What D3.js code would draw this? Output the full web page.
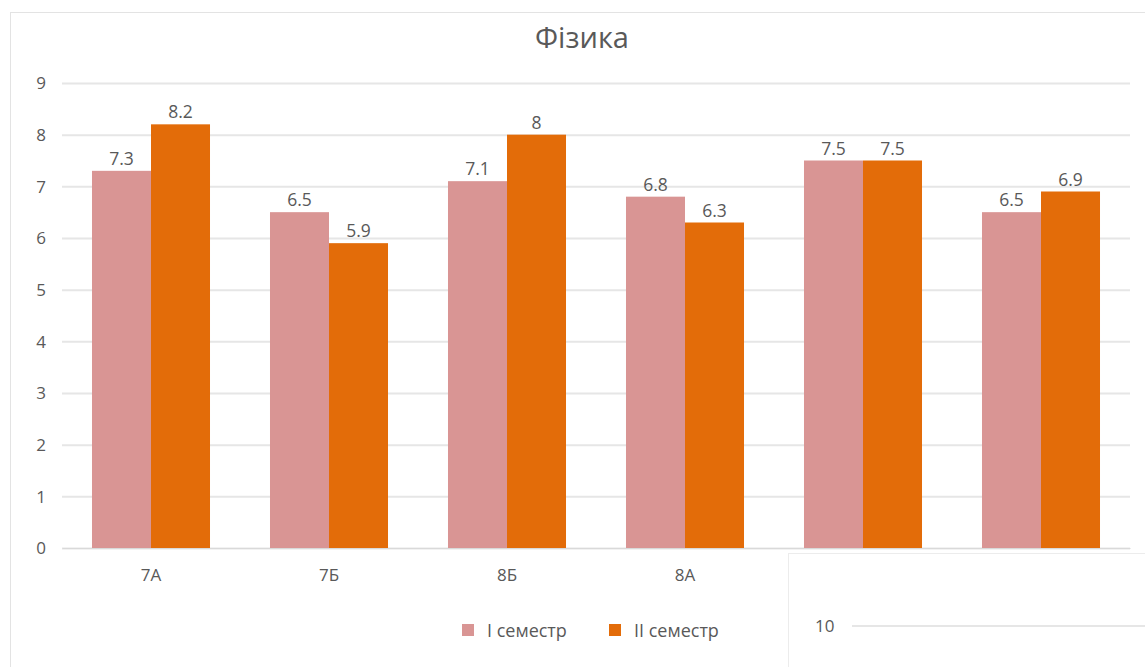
<!DOCTYPE html>
<html><head><meta charset="utf-8">
<script src="https://cdn.jsdelivr.net/npm/d3@7"></script>
<style>body{margin:0;background:#fff;} text{font-family:"Open Sans","Noto Sans",sans-serif;}</style>
</head><body>
<svg id="c" width="1145" height="667"></svg>
<script>
const categories = ["7А","7Б","8Б","8А","9А","9Б"];
const series1Name = "I семестр";
const series2Name = "II семестр";
const series1 = [7.3, 6.5, 7.1, 6.8, 7.5, 6.5];
const series2 = [8.2, 5.9, 8.0, 6.3, 7.5, 6.9];
const yTicks = [0,1,2,3,4,5,6,7,8,9];
const insetTicks = [10];
const title = "Фізика";

const svg = d3.select("#c");
const colors = ["#D99594", "#E36C09"];
const grid = "#e6e6e6", txt = "#595959";

// chart frame
svg.append("rect").attr("x",10.5).attr("y",12.5).attr("width",1140).attr("height",660)
  .attr("fill","#fff").attr("stroke","#e3e3e3");

const x0 = d3.scaleBand().domain(categories).range([62,1130]).paddingInner(0.337).paddingOuter(0.1685);
const x1 = d3.scaleBand().domain([0,1]).range([0,x0.bandwidth()]);
const y = d3.scaleLinear().domain([0,9]).range([548,83]);

svg.append("text").attr("x",582).attr("y",48).attr("text-anchor","middle")
  .attr("font-size",29).attr("fill",txt).text(title);

const yAxis = svg.append("g").attr("transform","translate(62,0)")
  .call(d3.axisLeft(y).tickValues(yTicks).tickSize(-1068).tickFormat(d3.format("d")));
yAxis.select(".domain").remove();
yAxis.selectAll("line").attr("stroke",grid).attr("stroke-width",2);
yAxis.selectAll("text").attr("x",-16).attr("fill",txt).attr("font-size",17).attr("dy","0.35em");

const xAxis = svg.append("g").attr("transform","translate(0,548)")
  .call(d3.axisBottom(x0).tickSize(0));
xAxis.select(".domain").attr("stroke","#d9d9d9");
xAxis.selectAll("text").attr("fill",txt).attr("font-size",17).attr("dy","1.75em");

const data = categories.map((c,i)=>({c, v:[series1[i], series2[i]]}));
const g = svg.append("g");
data.forEach(d=>{
  d.v.forEach((v,j)=>{
    g.append("rect").attr("x",x0(d.c)+x1(j)).attr("y",y(v)).attr("width",x1.bandwidth())
      .attr("height",y(0)-y(v)).attr("fill",colors[j]);
    g.append("text").attr("x",x0(d.c)+x1(j)+x1.bandwidth()/2).attr("y",y(v)-6)
      .attr("text-anchor","middle").attr("font-size",17.5).attr("fill",txt)
      .text(d3.format("")(v));
  });
});

// legend
const leg = svg.append("g");
[[series1Name,462],[series2Name,609]].forEach(([n,lx],j)=>{
  leg.append("rect").attr("x",lx).attr("y",624).attr("width",12).attr("height",12).attr("fill",colors[j]);
  leg.append("text").attr("x",lx+25).attr("y",637).attr("font-size",18).attr("fill",txt).text(n);
});

// overlay fragment of another chart
const ov = svg.append("g");
ov.append("rect").attr("x",788.5).attr("y",553.5).attr("width",400).attr("height",200)
  .attr("fill","#fff").attr("stroke","#ececec");
const yIns = d3.scaleLinear().domain([9,10]).range([678,626]);
ov.selectAll("line.ins").data(insetTicks).join("line").attr("x1",852).attr("x2",1145)
  .attr("y1",d=>yIns(d)).attr("y2",d=>yIns(d)).attr("stroke",grid).attr("stroke-width",2);
ov.selectAll("text.ins").data(insetTicks).join("text").attr("x",815).attr("y",d=>yIns(d)+6)
  .attr("font-size",17).attr("fill",txt).text(d=>d);
</script>
</body></html>
